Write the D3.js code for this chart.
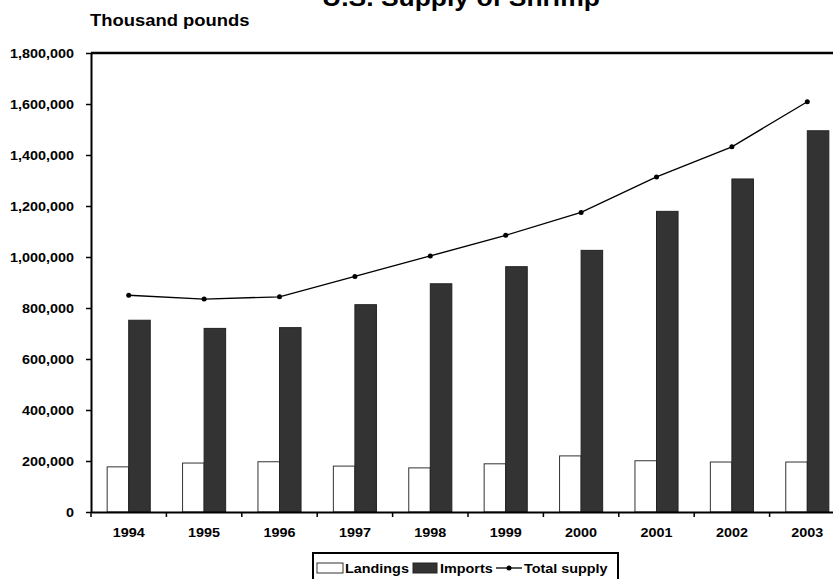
<!DOCTYPE html>
<html>
<head>
<meta charset="utf-8">
<script src="https://cdn.jsdelivr.net/npm/d3@7"></script>
<style>
  body { margin: 0; background: #fff; }
  text { font-family: "Liberation Sans", Arial, sans-serif; font-weight: bold; fill: #000; }
</style>
</head>
<body>
<div id="chart"></div>
<script>
// data (thousand pounds)
const years = ['1994', '1995', '1996', '1997', '1998', '1999', '2000', '2001', '2002', '2003']
const landings = [177000, 192000, 197000, 180000, 173000, 189000, 220000, 201000, 196000, 196000]
const imports = [752000, 720000, 723000, 813000, 895000, 962000, 1026000, 1179000, 1306000, 1495000]
const totalSupply = [850000, 835000, 844000, 924000, 1004000, 1085000, 1175000, 1314000, 1432000, 1609000]
const yTicks = [0, 200000, 400000, 600000, 800000, 1000000, 1200000, 1400000, 1600000, 1800000]
const seriesNames = ['Landings', 'Imports', 'Total supply']

const w = 833
const h = 579
const pLeft = 91, pRight = 845, pTop = 53, pBottom = 512
const stretchK = 1.15
const fs = 12.5

// the picture's text is wider than normal, so stretch it sideways
function stretch(sel, k) {
    sel.each(function () {
        const len = this.getComputedTextLength()
        this.setAttribute('textLength', len * k)
        this.setAttribute('lengthAdjust', 'spacingAndGlyphs')
    })
}

const svg = d3.select('#chart')
    .append('svg')
    .attr('width', w)
    .attr('height', h)

const x = d3.scaleBand().domain(years).range([pLeft, pRight])
const x1 = d3.scaleBand().domain(['landings', 'imports']).range([0, x.bandwidth()]).paddingOuter(0.75)
const y = d3.scaleLinear().domain([0, 1800000]).range([pBottom, pTop])

// bars
const rows = years.map((yr, i) => ({ year: yr, landings: landings[i], imports: imports[i], total: totalSupply[i] }))

svg.selectAll('rect.landings')
    .data(rows)
    .enter()
    .append('rect')
    .attr('class', 'landings')
    .attr('x', d => x(d.year) + x1('landings'))
    .attr('y', d => y(d.landings))
    .attr('width', x1.bandwidth())
    .attr('height', d => pBottom - y(d.landings))
    .attr('fill', '#fff')
    .attr('stroke', '#333')
    .attr('stroke-width', 1)

svg.selectAll('rect.imports')
    .data(rows)
    .enter()
    .append('rect')
    .attr('class', 'imports')
    .attr('x', d => x(d.year) + x1('imports'))
    .attr('y', d => y(d.imports))
    .attr('width', x1.bandwidth())
    .attr('height', d => pBottom - y(d.imports))
    .attr('fill', '#333')
    .attr('stroke', '#222')
    .attr('stroke-width', 1)

// total supply line
const cx = d => x(d.year) + x.bandwidth() / 2
const line = d3.line().x(cx).y(d => y(d.total))

svg.append('path')
    .datum(rows)
    .attr('d', line)
    .attr('fill', 'none')
    .attr('stroke', '#000')
    .attr('stroke-width', 1.3)

svg.selectAll('circle.total')
    .data(rows)
    .enter()
    .append('circle')
    .attr('class', 'total')
    .attr('cx', cx)
    .attr('cy', d => y(d.total))
    .attr('r', 2.5)
    .attr('fill', '#000')

// top border of the plot
svg.append('line')
    .attr('x1', pLeft).attr('x2', pRight)
    .attr('y1', pTop).attr('y2', pTop)
    .attr('stroke', '#000').attr('stroke-width', 2.5)

// y axis
const yAxis = d3.axisLeft(y)
    .tickValues(yTicks)
    .tickSize(5)
    .tickSizeOuter(0)
    .tickPadding(12)
    .tickFormat(d3.format(','))

const gy = svg.append('g')
    .attr('transform', 'translate(' + pLeft + ',0)')
    .call(yAxis)
gy.select('.domain').attr('stroke', '#000').attr('stroke-width', 2)
gy.selectAll('.tick line').attr('stroke', '#000').attr('stroke-width', 1.5)
gy.selectAll('text').attr('font-size', fs).attr('font-family', null)
stretch(gy.selectAll('text'), stretchK)

// x axis: labels in the middle, ticks on the category edges
const xAxis = d3.axisBottom(x).tickSize(0).tickPadding(16)
const gx = svg.append('g')
    .attr('transform', 'translate(0,' + pBottom + ')')
    .call(xAxis)
gx.select('.domain').attr('stroke', '#000').attr('stroke-width', 2)
gx.selectAll('text').attr('font-size', fs).attr('font-family', null)
stretch(gx.selectAll('text'), stretchK)

const edges = years.map(d => x(d)).concat([x(years[years.length - 1]) + x.bandwidth()])
gx.selectAll('line.edge')
    .data(edges)
    .enter()
    .append('line')
    .attr('class', 'edge')
    .attr('x1', d => d).attr('x2', d => d)
    .attr('y1', 0).attr('y2', 5)
    .attr('stroke', '#000').attr('stroke-width', 1.5)

// titles
const title = svg.append('text')
    .attr('x', 461)
    .attr('y', 6)
    .attr('text-anchor', 'middle')
    .attr('font-size', 23)
    .text('U.S. Supply of Shrimp')
stretch(title, stretchK)

const unit = svg.append('text')
    .attr('x', 90)
    .attr('y', 26)
    .attr('font-size', 16)
    .text('Thousand pounds')
stretch(unit, stretchK)

// legend
const lg = svg.append('g')
lg.append('rect')
    .attr('x', 313).attr('y', 553)
    .attr('width', 305).attr('height', 40)
    .attr('fill', '#fff').attr('stroke', '#000').attr('stroke-width', 2)

lg.append('rect')
    .attr('x', 317).attr('y', 563).attr('width', 26).attr('height', 10)
    .attr('fill', '#fff').attr('stroke', '#333').attr('stroke-width', 1)
lg.append('rect')
    .attr('x', 413).attr('y', 563).attr('width', 24).attr('height', 10)
    .attr('fill', '#333').attr('stroke', '#222').attr('stroke-width', 1)
lg.append('line')
    .attr('x1', 496).attr('x2', 522).attr('y1', 568).attr('y2', 568)
    .attr('stroke', '#000').attr('stroke-width', 1.3)
lg.append('circle')
    .attr('cx', 509).attr('cy', 568).attr('r', 2.5).attr('fill', '#000')

const legendX = [345, 440, 524]
const legendText = lg.selectAll('text')
    .data(seriesNames)
    .enter()
    .append('text')
    .attr('x', (d, i) => legendX[i])
    .attr('y', 573)
    .attr('font-size', fs)
    .text(d => d)
stretch(legendText, stretchK)
</script>
</body>
</html>
